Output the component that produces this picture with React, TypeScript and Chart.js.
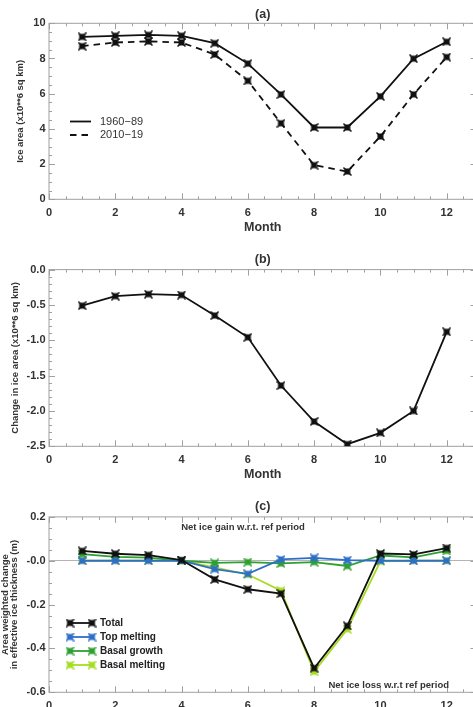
import React, { useEffect, useRef } from 'react';
import { Chart, registerables } from 'chart.js';

Chart.register(...registerables);

// ---------------- data ----------------
const months = [1, 2, 3, 4, 5, 6, 7, 8, 9, 10, 11, 12];
const xTicks = [0, 2, 4, 6, 8, 10, 12];

// panel (a) ice area (x10**6 sq km)
const area1960_89 = [9.23, 9.29, 9.34, 9.29, 8.87, 7.71, 5.96, 4.08, 4.08, 5.85, 7.99, 8.95];
const area2010_19 = [8.7, 8.91, 8.97, 8.91, 8.23, 6.73, 4.32, 1.94, 1.58, 3.57, 5.96, 8.08];
const yTicksA = [0, 2, 4, 6, 8, 10];
const yTickLabelsA = ['0', '2', '4', '6', '8', '10'];

// panel (b) change in ice area
const areaChange = [-0.51, -0.376, -0.347, -0.36, -0.65, -0.958, -1.64, -2.15, -2.47, -2.31, -2.0, -0.88];
const yTicksB = [-2.5, -2, -1.5, -1, -0.5, 0];
const yTickLabelsB = ['-2.5', '-2.0', '-1.5', '-1.0', '-0.5', '0.0'];

// panel (c) area weighted change in effective ice thickness (m)
const total = [0.045, 0.032, 0.026, 0.003, -0.085, -0.13, -0.15, -0.49, -0.297, 0.033, 0.029, 0.058];
const topMelting = [0, 0, 0, 0, -0.038, -0.06, 0.006, 0.013, 0.003, 0, 0, 0];
const basalGrowth = [0.03, 0.018, 0.014, 0, -0.01, -0.006, -0.012, -0.006, -0.024, 0.024, 0.015, 0.045];
const basalMelting = [0, 0, 0, 0, -0.03, -0.063, -0.136, -0.506, -0.312, -0.003, 0, 0];
const yTicksC = [-0.6, -0.4, -0.2, 0, 0.2];
const yTickLabelsC = ['-0.6', '-0.4', '-0.2', '-0.0', '0.2'];

// ---------------- styling ----------------
const FONT = "'Liberation Sans', Arial, Helvetica, sans-serif";
const CANVAS_W = 490;
const PLOT_LEFT = 49;
const PLOT_RIGHT = 476.5;
const X_MAX = 12.9;
const TEXT = '#333';

function makeMarker(color: string): HTMLCanvasElement {
  const size = 9;
  const c = document.createElement('canvas');
  c.width = size;
  c.height = size;
  const g = c.getContext('2d')!;
  const m = size / 2;
  g.fillStyle = color;
  g.strokeStyle = color;
  g.lineWidth = 1.5;
  g.fillRect(m - 3, m - 3, 6, 6);
  g.beginPath();
  g.moveTo(0.5, 0.5);
  g.lineTo(size - 0.5, size - 0.5);
  g.moveTo(size - 0.5, 0.5);
  g.lineTo(0.5, size - 0.5);
  g.stroke();
  return c;
}

const idlFrame = {
  id: 'idlFrame',
  beforeDatasetsDraw(chart: any, _args: any, opts: any) {
    const { ctx, chartArea } = chart;
    const { left, right, top, bottom } = chartArea;
    const xs = chart.scales.x;
    const ys = chart.scales.y;
    ctx.save();
    ctx.strokeStyle = '#a0a0a0';
    ctx.lineWidth = 1;
    ctx.setLineDash([]);
    ctx.strokeRect(left, top, right - left, bottom - top);
    ctx.beginPath();
    const nx = Math.round((xs.max - xs.min) / opts.xMinor);
    for (let i = 0; i <= nx; i++) {
      const v = xs.min + i * opts.xMinor;
      const r = v / opts.xMajor;
      const len = Math.abs(r - Math.round(r)) < 1e-6 ? 6 : 3;
      const px = Math.round(xs.getPixelForValue(v)) + 0.5;
      ctx.moveTo(px, bottom);
      ctx.lineTo(px, bottom - len);
      ctx.moveTo(px, top);
      ctx.lineTo(px, top + len);
    }
    const ny = Math.round((ys.max - ys.min) / opts.yMinor);
    for (let i = 0; i <= ny; i++) {
      const v = ys.min + i * opts.yMinor;
      const r = v / opts.yMajor;
      const len = Math.abs(r - Math.round(r)) < 1e-6 ? 6 : 3;
      const py = Math.round(ys.getPixelForValue(v)) + 0.5;
      ctx.moveTo(left, py);
      ctx.lineTo(left + len, py);
      ctx.moveTo(right, py);
      ctx.lineTo(right - len, py);
    }
    ctx.stroke();
    ctx.restore();
  },
};

const panelText = {
  id: 'panelText',
  afterDraw(chart: any, _args: any, opts: any) {
    const ctx = chart.ctx;
    ctx.save();
    const L = opts.legend;
    if (L) {
      chart.data.datasets.forEach((ds: any, i: number) => {
        const y = L.y0 + i * L.dy;
        ctx.strokeStyle = ds.borderColor;
        ctx.lineWidth = ds.borderWidth;
        ctx.setLineDash(ds.borderDash || []);
        ctx.beginPath();
        ctx.moveTo(L.x0, y);
        ctx.lineTo(L.x1, y);
        ctx.stroke();
        ctx.setLineDash([]);
        if (L.markers && ds.pointStyle instanceof HTMLCanvasElement) {
          const img = ds.pointStyle;
          ctx.drawImage(img, L.x0 - img.width / 2, y - img.height / 2);
          ctx.drawImage(img, L.x1 - img.width / 2, y - img.height / 2);
        }
        ctx.fillStyle = L.color;
        ctx.font = L.font;
        ctx.textAlign = 'left';
        ctx.textBaseline = 'middle';
        ctx.fillText(ds.label, L.xText, y);
      });
    }
    (opts.notes || []).forEach((n: any) => {
      ctx.fillStyle = TEXT;
      ctx.font = n.font;
      ctx.textAlign = n.align;
      ctx.textBaseline = 'middle';
      ctx.fillText(n.text, n.x, n.y);
    });
    ctx.restore();
  },
};

type PanelCfg = {
  title: string;
  padTop: number;
  titlePadBottom: number;
  padBottom: number;
  yMin: number;
  yMax: number;
  yTicks: number[];
  yLabels: string[];
  yMajor: number;
  yMinor: number;
  yTitle: string | string[];
  yTitleFont: any;
  yTitlePad: number;
  zeroLine?: boolean;
  legend?: any;
  notes?: any[];
};

function makeOptions(cfg: PanelCfg): any {
  return {
    responsive: false,
    animation: false,
    devicePixelRatio: 1,
    events: [],
    layout: {
      padding: { left: 0, right: CANVAS_W - PLOT_RIGHT, top: cfg.padTop, bottom: cfg.padBottom },
    },
    plugins: {
      legend: { display: false },
      tooltip: { enabled: false },
      title: {
        display: true,
        text: cfg.title,
        fullSize: false,
        color: TEXT,
        font: { family: FONT, size: 12.5, weight: 'bold', lineHeight: 1.2 },
        padding: { top: 0, bottom: cfg.titlePadBottom },
      },
      idlFrame: { xMinor: 0.5, xMajor: 2, yMinor: cfg.yMinor, yMajor: cfg.yMajor },
      panelText: { legend: cfg.legend, notes: cfg.notes },
    },
    scales: {
      x: {
        type: 'linear',
        min: 0,
        max: X_MAX,
        afterBuildTicks: (s: any) => {
          s.ticks = xTicks.map((v) => ({ value: v }));
        },
        afterFit: (s: any) => {
          s.height = 36.2;
        },
        grid: { display: false, drawTicks: false },
        border: { display: false },
        ticks: {
          padding: 7,
          color: TEXT,
          autoSkip: false,
          maxRotation: 0,
          font: { family: FONT, size: 11, weight: 'bold' },
          callback: (v: any) => String(v),
        },
        title: {
          display: true,
          text: 'Month',
          color: TEXT,
          font: { family: FONT, size: 12.5, weight: 'bold', lineHeight: 1.2 },
          padding: { top: 0, bottom: 0 },
        },
      },
      y: {
        type: 'linear',
        min: cfg.yMin,
        max: cfg.yMax,
        afterBuildTicks: (s: any) => {
          s.ticks = cfg.yTicks.map((v) => ({ value: v }));
        },
        afterFit: (s: any) => {
          s.width = PLOT_LEFT;
        },
        grid: cfg.zeroLine
          ? {
              display: true,
              drawTicks: false,
              lineWidth: 1,
              color: (c: any) => (c.tick && Math.abs(c.tick.value) < 1e-9 ? '#b4b4b4' : 'rgba(0,0,0,0)'),
            }
          : { display: false, drawTicks: false },
        border: { display: false },
        ticks: {
          padding: 3.5,
          color: TEXT,
          font: { family: FONT, size: 11, weight: 'bold' },
          callback: (_v: any, i: number) => cfg.yLabels[i],
        },
        title: {
          display: true,
          text: cfg.yTitle,
          color: TEXT,
          font: cfg.yTitleFont,
          padding: { top: cfg.yTitlePad, bottom: 0 },
        },
      },
    },
  };
}

function series(label: string, values: number[], color: string, marker: HTMLCanvasElement, dash?: number[]) {
  return {
    label,
    data: months.map((m, i) => ({ x: m, y: values[i] })),
    borderColor: color,
    backgroundColor: color,
    borderWidth: 1.8,
    borderDash: dash || [],
    pointStyle: marker,
    pointRadius: 4,
    pointHoverRadius: 4,
    tension: 0,
  };
}

export default function App() {
  const refA = useRef<HTMLCanvasElement>(null);
  const refB = useRef<HTMLCanvasElement>(null);
  const refC = useRef<HTMLCanvasElement>(null);

  useEffect(() => {
    const black = makeMarker('#111');
    const blue = makeMarker('#2f6fc8');
    const green = makeMarker('#2fa032');
    const lime = makeMarker('#a6dc22');
    const yTitleFont = { family: FONT, size: 9.5, weight: 'bold', lineHeight: 1.2 };

    const chartA = new Chart(refA.current!, {
      type: 'line',
      data: {
        datasets: [
          series('1960\u221289', area1960_89, '#111', black),
          series('2010\u221219', area2010_19, '#111', black, [6.5, 5]),
        ],
      },
      options: makeOptions({
        title: '(a)',
        padTop: 6.8,
        titlePadBottom: 1.5,
        padBottom: 4.5,
        yMin: 0,
        yMax: 10,
        yTicks: yTicksA,
        yLabels: yTickLabelsA,
        yMajor: 2,
        yMinor: 0.5,
        yTitle: 'Ice area (x10**6 sq km)',
        yTitleFont,
        yTitlePad: 15,
        legend: { x0: 70, x1: 91, xText: 100, y0: 121.5, dy: 13.5, color: TEXT, font: `11px ${FONT}`, markers: false },
      }),
      plugins: [idlFrame, panelText],
    } as any);

    const chartB = new Chart(refB.current!, {
      type: 'line',
      data: {
        datasets: [series('Change', areaChange, '#111', black)],
      },
      options: makeOptions({
        title: '(b)',
        padTop: 11.8,
        titlePadBottom: 2.8,
        padBottom: 2.5,
        yMin: -2.5,
        yMax: 0,
        yTicks: yTicksB,
        yLabels: yTickLabelsB,
        yMajor: 0.5,
        yMinor: 0.1,
        yTitle: 'Change in ice area (x10**6 sq km)',
        yTitleFont,
        yTitlePad: 9.3,
      }),
      plugins: [idlFrame, panelText],
    } as any);

    const chartC = new Chart(refC.current!, {
      type: 'line',
      data: {
        datasets: [
          series('Total', total, '#111', black),
          series('Top melting', topMelting, '#2f6fc8', blue),
          series('Basal growth', basalGrowth, '#2fa032', green),
          series('Basal melting', basalMelting, '#a6dc22', lime),
        ],
      },
      options: makeOptions({
        title: '(c)',
        padTop: 13.8,
        titlePadBottom: 3.1,
        padBottom: 16.5,
        yMin: -0.6,
        yMax: 0.2,
        yTicks: yTicksC,
        yLabels: yTickLabelsC,
        yMajor: 0.2,
        yMinor: 0.05,
        yTitle: ['Area weighted change', 'in effective ice thickness (m)'],
        yTitleFont: { family: FONT, size: 9.5, weight: 'bold', lineHeight: 0.95 },
        yTitlePad: 0.5,
        zeroLine: true,
        legend: { x0: 70, x1: 92, xText: 100, y0: 138, dy: 14, color: '#222', font: `bold 10px ${FONT}`, markers: true },
        notes: [
          { text: 'Net ice gain w.r.t. ref period', x: 243, y: 42, align: 'center', font: `bold 9.5px ${FONT}` },
          { text: 'Net ice loss w.r.t ref period', x: 449, y: 200, align: 'right', font: `bold 9.5px ${FONT}` },
        ],
      }),
      plugins: [idlFrame, panelText],
    } as any);

    return () => {
      chartA.destroy();
      chartB.destroy();
      chartC.destroy();
    };
  }, []);

  return (
    <div
      style={{
        position: 'absolute',
        left: 0,
        top: 0,
        width: 473,
        height: 707,
        overflow: 'hidden',
        background: '#fff',
      }}
    >
      <canvas ref={refA} width={CANVAS_W} height={240} style={{ position: 'absolute', left: 0, top: 0 }} />
      <canvas ref={refB} width={CANVAS_W} height={245} style={{ position: 'absolute', left: 0, top: 240 }} />
      <canvas ref={refC} width={CANVAS_W} height={260} style={{ position: 'absolute', left: 0, top: 485 }} />
    </div>
  );
}
